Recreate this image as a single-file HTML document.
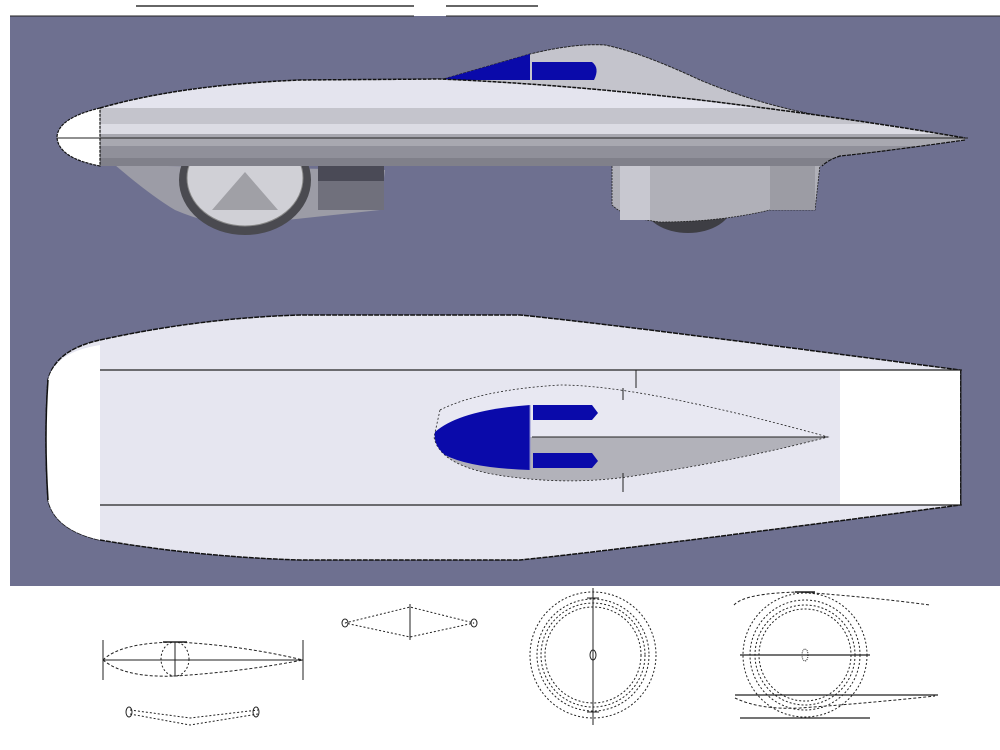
<!DOCTYPE html>
<html><head><meta charset="utf-8"><style>
html,body{margin:0;padding:0;background:#fff;width:1000px;height:750px;overflow:hidden}
svg{display:block}
</style></head><body>
<svg width="1000" height="750" viewBox="0 0 1000 750" xmlns="http://www.w3.org/2000/svg">
<defs>
<clipPath id="bodyclip">
<path d="M100,108 Q180,85 300,80 L440,79 Q560,84 700,100 Q850,118 965,138 L965,140 Q880,152 840,156 Q828,160 822,166 L100,166 Z"/>
</clipPath>
</defs>
<rect width="1000" height="750" fill="#fff"/>
<line x1="136" y1="6" x2="414" y2="6" stroke="#333" stroke-width="1.5"/>
<line x1="446" y1="6" x2="538" y2="6" stroke="#333" stroke-width="1.5"/>
<rect x="10" y="16" width="990" height="570" fill="#6e7090"/>
<line x1="10" y1="16" x2="414" y2="16" stroke="#222" stroke-width="1"/>
<line x1="446" y1="16" x2="1000" y2="16" stroke="#222" stroke-width="1"/>

<!-- SIDE VIEW -->
<!-- canopy -->
<path d="M440,80 L530,54 Q575,43 605,45 Q640,52 700,80 Q760,105 822,116 L700,100 Z" fill="#c4c4cc" stroke="#222" stroke-width="1" stroke-dasharray="3,1"/>
<polygon points="440,80 530,54 530,80" fill="#0a0aaa"/>
<path d="M532,62 L592,62 Q600,68 594,80 L532,80 Z" fill="#0a0aaa"/>
<!-- front fairing -->
<path d="M115,165 Q150,195 175,210 Q210,225 240,225 L380,210 L385,170 Z" fill="#9c9ca6"/>
<rect x="318" y="165" width="66" height="45" fill="#70707c"/>
<rect x="318" y="165" width="66" height="16" fill="#4a4a56"/>
<!-- front wheel -->
<ellipse cx="245" cy="180" rx="66" ry="55" fill="#4a4a50"/>
<ellipse cx="245" cy="178" rx="58" ry="48" fill="#d0d0d6" stroke="#888" stroke-width="1"/>
<polygon points="245,172 212,210 278,210" fill="#a0a0a6"/>
<!-- rear box -->
<ellipse cx="688" cy="205" rx="44" ry="28" fill="#3e3e44"/>
<path d="M612,165 L820,165 L815,210 L770,210 Q720,222 660,222 Q625,218 612,205 Z" fill="#b0b0b8" stroke="#222" stroke-width="0.8" stroke-dasharray="2,1"/>
<rect x="770" y="165" width="45" height="45" fill="#9c9ca4"/>
<rect x="620" y="165" width="30" height="55" fill="#c8c8d0"/>
<!-- body -->
<g clip-path="url(#bodyclip)">
<rect x="100" y="70" width="870" height="100" fill="#e4e4ee"/>
<rect x="100" y="108" width="870" height="16" fill="#c4c4cc"/>
<rect x="100" y="124" width="870" height="10" fill="#dcdce4"/>
<rect x="100" y="134" width="870" height="12" fill="#a8a8b0"/>
<rect x="100" y="146" width="870" height="12" fill="#90909a"/>
<rect x="100" y="158" width="870" height="10" fill="#80808a"/>
</g>
<path d="M100,108 Q180,85 300,80 L440,79 Q560,84 700,100 Q850,118 965,138" fill="none" stroke="#111" stroke-width="1.5" stroke-dasharray="4,1"/>
<path d="M965,140 Q880,152 840,156 Q828,160 822,166" fill="none" stroke="#111" stroke-width="1.2" stroke-dasharray="4,1"/>
<path d="M100,108 Q58,118 57,137 Q58,158 100,166 Z" fill="#fff" stroke="#111" stroke-width="1.2" stroke-dasharray="3,1"/>
<line x1="57" y1="138" x2="968" y2="138" stroke="#222" stroke-width="1"/>

<!-- PLAN VIEW -->
<path d="M100,340 Q200,318 300,315 L520,315 Q620,325 960,370 L960,505 Q620,550 520,560 L300,560 Q200,557 100,540 Q55,530 48,500 Q44,437 48,380 Q55,350 100,340 Z" fill="#e6e6f0" stroke="#111" stroke-width="1.5" stroke-dasharray="5,1"/>
<path d="M100,345 L100,540 Q55,530 48,500 Q44,437 48,380 Q55,352 100,345 Z" fill="#fff"/>
<path d="M48,380 Q44,437 48,500" fill="none" stroke="#111" stroke-width="1.5"/>
<rect x="840" y="370" width="120" height="135" fill="#fff"/>
<line x1="100" y1="370" x2="962" y2="370" stroke="#222" stroke-width="1.2"/>
<line x1="100" y1="505" x2="962" y2="505" stroke="#222" stroke-width="1.2"/>
<line x1="961" y1="370" x2="961" y2="505" stroke="#222" stroke-width="1"/>
<!-- canopy plan -->
<path d="M440,410 Q480,390 560,385 Q640,385 828,437 L440,437 Z" fill="#e8e8f2"/>
<path d="M434,437 Q440,470 520,478 Q580,485 640,475 Q740,460 828,437 Z" fill="#b2b2ba"/>
<path d="M440,410 Q480,390 560,385 Q640,385 828,437 Q740,460 640,475 Q580,485 520,478 Q440,470 434,437 Z" fill="none" stroke="#222" stroke-width="0.8" stroke-dasharray="2,2"/>
<path d="M530,405 Q460,410 435,432 Q433,445 445,455 Q470,468 530,470 Z" fill="#0a0aaa"/>
<line x1="530" y1="405" x2="530" y2="470" stroke="#8888cc" stroke-width="1"/>
<path d="M533,405 L592,405 L598,413 L592,420 L533,420 Z" fill="#0a0aaa"/>
<path d="M533,453 L592,453 L598,461 L592,468 L533,468 Z" fill="#0a0aaa"/>
<line x1="532" y1="437" x2="828" y2="437" stroke="#222" stroke-width="1"/>
<line x1="636" y1="370" x2="636" y2="388" stroke="#222" stroke-width="1"/>
<line x1="623" y1="388" x2="623" y2="400" stroke="#222" stroke-width="1"/>
<line x1="623" y1="473" x2="623" y2="492" stroke="#222" stroke-width="1"/>

<!-- BOTTOM DRAWINGS -->
<g fill="none" stroke="#222" stroke-width="1">
<line x1="103" y1="640" x2="103" y2="680"/>
<line x1="303" y1="640" x2="303" y2="680"/>
<line x1="103" y1="660" x2="303" y2="660"/>
<path d="M103,660 Q120,643 175,642 Q240,645 303,660" stroke-dasharray="3,2"/>
<path d="M103,660 Q125,678 175,676 Q240,672 303,660" stroke-dasharray="3,2"/>
<ellipse cx="175" cy="659" rx="14" ry="17" stroke-dasharray="2,2"/>
<line x1="175" y1="642" x2="175" y2="676"/>
<line x1="163" y1="642" x2="187" y2="642" stroke-width="1.5"/>
<path d="M130,710 L190,718 L258,710" stroke-dasharray="2,2"/>
<path d="M130,714 L190,725 L258,714" stroke-dasharray="2,2"/>
<ellipse cx="129" cy="712" rx="3" ry="5"/>
<ellipse cx="256" cy="712" rx="3" ry="5"/>
<path d="M345,623 L410,607 L474,623 L410,637 Z" stroke-dasharray="2,2"/>
<line x1="410" y1="604" x2="410" y2="640"/>
<ellipse cx="345" cy="623" rx="3" ry="4"/>
<ellipse cx="474" cy="623" rx="3" ry="4"/>
<line x1="593" y1="588" x2="593" y2="725"/>
<circle cx="593" cy="655" r="63" stroke-dasharray="2,2"/>
<circle cx="593" cy="655" r="56" stroke-dasharray="2,2"/>
<circle cx="593" cy="655" r="52" stroke-dasharray="2,2"/>
<circle cx="593" cy="655" r="48" stroke-dasharray="2,2"/>
<ellipse cx="593" cy="655" rx="3" ry="5"/>
<line x1="587" y1="598" x2="599" y2="598"/>
<line x1="587" y1="712" x2="599" y2="712"/>
<circle cx="805" cy="655" r="62" stroke-dasharray="2,2"/>
<circle cx="805" cy="655" r="55" stroke-dasharray="2,2"/>
<circle cx="805" cy="655" r="50" stroke-dasharray="2,2"/>
<circle cx="805" cy="655" r="46" stroke-dasharray="2,2"/>
<ellipse cx="805" cy="655" rx="3" ry="6" stroke-dasharray="1,1"/>
<line x1="740" y1="655" x2="870" y2="655" stroke-width="1.3"/>
<line x1="735" y1="695" x2="938" y2="695" stroke-width="1.3"/>
<line x1="740" y1="718" x2="870" y2="718" stroke-width="1.3"/>
<path d="M734,605 Q745,593 800,592 Q870,597 930,605" stroke-dasharray="3,2"/>
<path d="M735,698 Q760,710 800,708 Q870,703 935,696" stroke-dasharray="3,2"/>
<line x1="795" y1="592" x2="815" y2="592" stroke-width="1.5"/>
</g>
</svg>
</body></html>
